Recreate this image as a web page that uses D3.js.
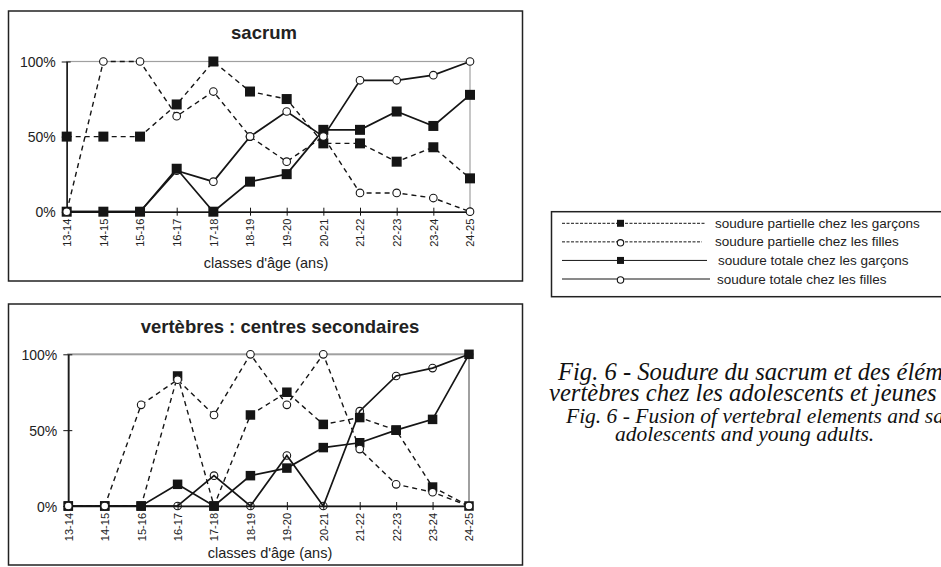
<!DOCTYPE html>
<html>
<head>
<meta charset="utf-8">
<script src="https://cdnjs.cloudflare.com/ajax/libs/d3/7.8.5/d3.min.js"></script>
<style>
  html, body { margin: 0; padding: 0; background: #fff; overflow: hidden; }
  svg { display: block; }
</style>
</head>
<body>
<svg id="fig"></svg>
<script>
// age classes (x axis) and y ticks
var categories = ["13-14", "14-15", "15-16", "16-17", "17-18", "18-19",
                  "19-20", "20-21", "21-22", "22-23", "23-24", "24-25"];
var yTicks = [0, 50, 100];

// sacrum, % of individuals
var sacrumPartialBoys  = [50, 50, 50, 71.4, 100, 80, 75, 45.5, 45.5, 33.3, 42.9, 22.2];
var sacrumPartialGirls = [0, 100, 100, 63.6, 80, 50, 33.3, 50, 12.5, 12.5, 9.1, 0];
var sacrumTotalBoys    = [0, 0, 0, 28.6, 0, 20, 25, 54.5, 54.5, 66.7, 57.1, 77.8];
var sacrumTotalGirls   = [0, 0, 0, 27.3, 20, 50, 66.7, 50, 87.5, 87.5, 90.9, 100];

// vertebrae, secondary centres
var vertPartialBoys  = [0, 0, 0, 85.7, 0, 60, 75, 53.8, 58.3, 50, 12.5, 0];
var vertPartialGirls = [0, 0, 66.7, 83.3, 60, 100, 66.7, 100, 37.5, 14.3, 9.1, 0];
var vertTotalBoys    = [0, 0, 0, 14.3, 0, 20, 25, 38.5, 41.7, 50, 57.1, 100];
var vertTotalGirls   = [0, 0, 0, 0, 20, 0, 33.3, 0, 62.5, 85.7, 90.9, 100];

var legendLabels = ["soudure partielle chez les garçons",
                    "soudure partielle chez les filles",
                    "soudure totale chez les garçons",
                    "soudure totale chez les filles"];
var captionFr = ["Fig. 6 - Soudure du sacrum et des éléments des",
                 "vertèbres chez les adolescents et jeunes adultes."];
var captionEn = ["Fig. 6 - Fusion of vertebral elements and sacrum in",
                 "adolescents and young adults."];

var W = 941, H = 567;
var sans = "Arial, 'Liberation Sans', Helvetica, sans-serif";
var serif = "'Times New Roman', 'Liberation Serif', serif";
var ink = "#151515";

var svg = d3.select("#fig").attr("width", W).attr("height", H);

function drawChart(o){
  var g = svg.append("g");

  g.append("rect")
    .attr("x", o.frame[0]).attr("y", o.frame[1])
    .attr("width", o.frame[2]).attr("height", o.frame[3])
    .attr("fill", "none").attr("stroke", "#222").attr("stroke-width", 1.5);

  var x = d3.scalePoint().domain(categories).range([o.left, o.right]);
  var y = d3.scaleLinear().domain([0, 100]).range([o.bottom, o.top]);

  // grey plot area border (top + right show)
  g.append("rect")
    .attr("x", o.left).attr("y", o.top)
    .attr("width", o.right - o.left).attr("height", o.bottom - o.top)
    .attr("fill", "none").attr("stroke", "#a0a0a0").attr("stroke-width", o.borderWidth);

  var yAxis = g.append("g")
    .attr("transform", "translate(" + o.left + ",0)")
    .call(d3.axisLeft(y).tickValues(yTicks)
      .tickFormat(function(d){ return d + "%"; })
      .tickSizeOuter(0));
  yAxis.select(".domain").attr("stroke", ink).attr("stroke-width", 1.5);
  yAxis.selectAll(".tick line").attr("x1", 4).attr("x2", -5).attr("stroke", ink);
  yAxis.selectAll(".tick text")
    .attr("x", -11).attr("dy", "0.36em")
    .style("font-family", sans).style("font-size", "14px").attr("fill", "#222");

  var xAxis = g.append("g")
    .attr("transform", "translate(0," + o.bottom + ")")
    .call(d3.axisBottom(x).tickSizeOuter(0));
  xAxis.select(".domain").attr("stroke", ink).attr("stroke-width", 1.5);
  xAxis.selectAll(".tick line").attr("y1", -4).attr("y2", 4).attr("stroke", ink);
  xAxis.selectAll(".tick text")
    .attr("transform", "rotate(-90)")
    .attr("x", -7).attr("y", 0).attr("dy", "0.36em")
    .attr("text-anchor", "end")
    .style("font-family", sans).style("font-size", "11px").attr("fill", "#222");

  g.append("text")
    .attr("x", o.titleX).attr("y", o.titleY)
    .attr("text-anchor", "middle")
    .style("font-family", sans).style("font-size", "18.5px").style("font-weight", "bold")
    .attr("fill", "#222")
    .text(o.title);

  g.append("text")
    .attr("x", o.labelX).attr("y", o.labelY)
    .attr("text-anchor", "middle")
    .style("font-family", sans).style("font-size", "14.5px")
    .attr("fill", "#222")
    .text("classes d'âge (ans)");

  var line = d3.line()
    .x(function(d, i){ return x(categories[i]); })
    .y(function(d){ return y(d); });

  o.series.forEach(function(s){
    var sg = g.append("g");
    sg.append("path")
      .datum(s.values)
      .attr("d", line)
      .attr("fill", "none")
      .attr("stroke", ink)
      .attr("stroke-width", s.dashed ? 1.4 : 1.7)
      .attr("stroke-dasharray", s.dashed ? "5,4" : null);

    if(s.marker == "square"){
      sg.selectAll("rect")
        .data(s.values)
        .enter()
        .append("rect")
          .attr("x", function(d, i){ return x(categories[i]) - o.sq / 2; })
          .attr("y", function(d){ return y(d) - o.sq / 2; })
          .attr("width", o.sq)
          .attr("height", o.sq)
          .attr("fill", ink);
    }
    else{
      sg.selectAll("circle")
        .data(s.values)
        .enter()
        .append("circle")
          .attr("cx", function(d, i){ return x(categories[i]); })
          .attr("cy", function(d){ return y(d); })
          .attr("r", o.r)
          .attr("fill", s.fill)
          .attr("stroke", ink)
          .attr("stroke-width", 1.1);
    }
  });
}

drawChart({
  frame: [8.5, 11, 514, 270],
  left: 66.7, right: 470, top: 61.5, bottom: 211.7,
  borderWidth: 1.2,
  title: "sacrum", titleX: 264, titleY: 39,
  labelX: 266, labelY: 268,
  sq: 10, r: 3.8,
  series: [
    {values: sacrumTotalGirls, dashed: false, marker: "circle", fill: "#fff"},
    {values: sacrumTotalBoys, dashed: false, marker: "square"},
    {values: sacrumPartialBoys, dashed: true, marker: "square"},
    {values: sacrumPartialGirls, dashed: true, marker: "circle", fill: "#fff"}
  ]
});

drawChart({
  frame: [8.5, 304, 514, 261],
  left: 68.3, right: 469, top: 354.3, bottom: 506,
  borderWidth: 2,
  title: "vertèbres : centres secondaires", titleX: 280, titleY: 333,
  labelX: 270, labelY: 558,
  sq: 9.5, r: 3.8,
  series: [
    {values: vertTotalGirls, dashed: false, marker: "circle", fill: "none"},
    {values: vertTotalBoys, dashed: false, marker: "square"},
    {values: vertPartialBoys, dashed: true, marker: "square"},
    {values: vertPartialGirls, dashed: true, marker: "circle", fill: "#fff"}
  ]
});

// legend
var legendY = d3.scalePoint().domain(legendLabels).range([223.3, 279]);
var legendEnd = [705, 702, 707, 710];
var legendTextX = [715, 715, 718, 717];
var lg = svg.append("g");
lg.append("rect")
  .attr("x", 551.5).attr("y", 211.7).attr("width", 420).attr("height", 85)
  .attr("fill", "none").attr("stroke", "#222").attr("stroke-width", 1.5);

legendLabels.forEach(function(lab, i){
  var yy = legendY(lab);
  var dashed = i < 2;
  lg.append("line")
    .attr("x1", 562).attr("x2", legendEnd[i])
    .attr("y1", yy).attr("y2", yy)
    .attr("stroke", ink).attr("stroke-width", 1)
    .attr("stroke-dasharray", dashed ? "3,1.5" : null);
  if(i % 2 == 0){
    lg.append("rect")
      .attr("x", 617).attr("y", yy - 3.5).attr("width", 7).attr("height", 7)
      .attr("fill", ink);
  }
  else{
    lg.append("circle")
      .attr("cx", 620.5).attr("cy", yy + 1).attr("r", 3.2)
      .attr("fill", "#fff").attr("stroke", ink).attr("stroke-width", 1.1);
  }
  lg.append("text")
    .attr("x", legendTextX[i]).attr("y", yy + 4.5)
    .style("font-family", sans).style("font-size", "13.5px")
    .attr("fill", "#222")
    .text(lab);
});

// caption (runs off the right edge, as in the source page)
var cap = svg.append("g")
  .style("font-family", serif).style("font-style", "italic").attr("fill", "#111");
cap.append("text").attr("x", 558).attr("y", 380).style("font-size", "24.6px").text(captionFr[0]);
cap.append("text").attr("x", 549).attr("y", 401).style("font-size", "24.6px").text(captionFr[1]);
cap.append("text").attr("x", 566).attr("y", 423).style("font-size", "21.5px").text(captionEn[0]);
cap.append("text").attr("x", 615).attr("y", 441).style("font-size", "21.5px").text(captionEn[1]);
</script>
</body>
</html>
